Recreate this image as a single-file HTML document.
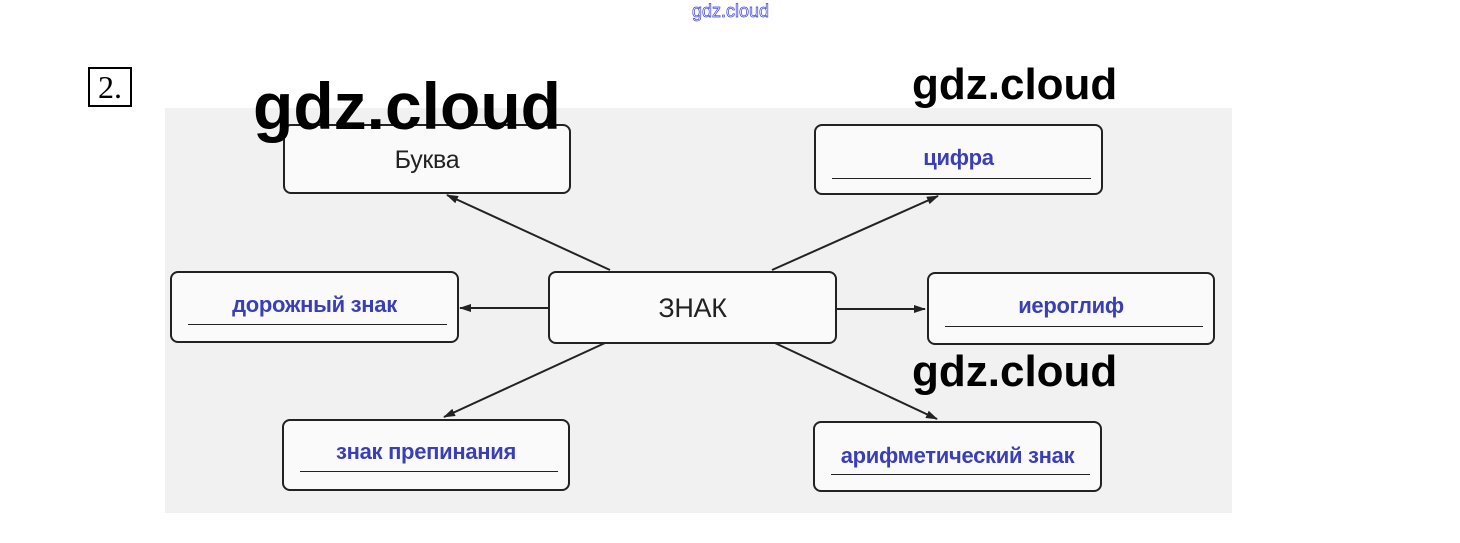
<!DOCTYPE html>
<html><head><meta charset="utf-8"><style>
body{margin:0;width:1460px;height:543px;background:#fff;position:relative;overflow:hidden;font-family:"Liberation Sans",sans-serif}
.a{position:absolute}
.box{position:absolute;border:2px solid #222;border-radius:8px;box-sizing:border-box;background:#fafafa}
.t{position:absolute;left:0;right:0;text-align:center;font-weight:bold;color:#3a3fb8;font-size:22px;line-height:26px;letter-spacing:-0.3px}
.u{position:absolute;left:16px;right:10px;border-top:1.5px solid #222}
.wm{position:absolute;color:#000;font-family:"Liberation Sans",sans-serif;font-weight:bold;white-space:nowrap}
</style></head><body>
<div class="a" style="left:165px;top:108px;width:1067px;height:405px;background:#f1f1f1"></div>
<div class="a" style="left:88px;top:67px;width:44px;height:40px;border:2px solid #000;box-sizing:border-box;font-family:'Liberation Serif',serif;font-size:32px;line-height:36px;text-align:center">2.</div>
<svg class="a" style="left:0;top:0" width="1460" height="543">
<defs><marker id="m" markerWidth="12" markerHeight="8" refX="11" refY="4" orient="auto" markerUnits="userSpaceOnUse"><path d="M0,0 L12,4 L0,8 z" fill="#222"/></marker></defs>
<g stroke="#222" stroke-width="2" marker-end="url(#m)">
<line x1="610" y1="270" x2="447" y2="195"/>
<line x1="772" y1="270" x2="938" y2="196"/>
<line x1="548" y1="308" x2="460" y2="308"/>
<line x1="836" y1="309" x2="925" y2="309"/>
<line x1="605" y1="343" x2="444" y2="417"/>
<line x1="775" y1="343" x2="937" y2="419"/>
</g></svg>
<div class="box" style="left:283px;top:124px;width:288px;height:70px"><div class="t" style="top:21px;color:#222;font-weight:normal;font-size:25px">Буква</div></div>
<div class="box" style="left:814px;top:124px;width:289px;height:71px"><div class="t" style="top:19px">цифра</div><div class="u" style="top:52px"></div></div>
<div class="box" style="left:170px;top:271px;width:289px;height:72px"><div class="t" style="top:19px">дорожный знак</div><div class="u" style="top:51px"></div></div>
<div class="box" style="left:548px;top:271px;width:289px;height:73px"><div class="t" style="top:22px;color:#222;font-weight:normal;font-size:27px">ЗНАК</div></div>
<div class="box" style="left:927px;top:272px;width:288px;height:73px"><div class="t" style="top:19px">иероглиф</div><div class="u" style="top:52px"></div></div>
<div class="box" style="left:282px;top:419px;width:288px;height:72px"><div class="t" style="top:18px">знак препинания</div><div class="u" style="top:50px"></div></div>
<div class="box" style="left:813px;top:421px;width:289px;height:71px"><div class="t" style="top:20px">арифметический знак</div><div class="u" style="top:51px"></div></div>
<div class="wm" style="left:253px;top:68px;font-size:66px">gdz.cloud</div>
<div class="wm" style="left:912px;top:60px;font-size:44px">gdz.cloud</div>
<div class="wm" style="left:912px;top:347px;font-size:44px">gdz.cloud</div>
<div class="a" style="left:692px;top:1px;font-size:18px;color:#fff;-webkit-text-stroke:0.7px #3a3fd8">gdz.cloud</div>
</body></html>
